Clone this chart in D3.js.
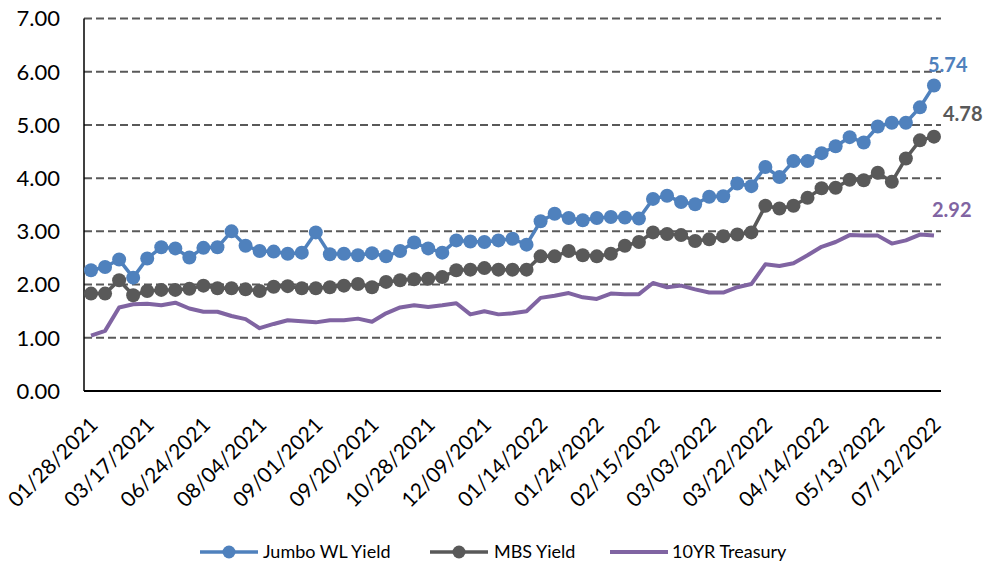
<!DOCTYPE html>
<html><head><meta charset="utf-8">
<script src="https://cdn.jsdelivr.net/npm/d3@7"></script>
<style>body{margin:0;background:#fff;} text{font-family:Lato,"Open Sans",sans-serif;}</style>
</head><body>
<svg id="c" width="989" height="565"></svg>
<script>
const tickLabels = ["01/28/2021","03/17/2021","06/24/2021","08/04/2021","09/01/2021","09/20/2021","10/28/2021","12/09/2021","01/14/2022","01/24/2022","02/15/2022","03/03/2022","03/22/2022","04/14/2022","05/13/2022","07/12/2022"];
const jumbo = [2.27,2.33,2.47,2.13,2.49,2.70,2.68,2.51,2.69,2.70,3.00,2.73,2.63,2.62,2.58,2.60,2.98,2.57,2.58,2.55,2.59,
  2.53,2.63,2.79,2.68,2.60,2.83,2.81,2.80,2.83,2.86,2.75,3.19,3.33,3.25,3.21,3.25,3.27,3.26,3.24,3.61,3.67,
  3.55,3.51,3.65,3.66,3.90,3.85,4.21,4.02,4.32,4.32,4.47,4.60,4.77,4.67,4.97,5.04,5.04,5.33,5.74];
const mbs = [1.83,1.83,2.08,1.80,1.88,1.90,1.90,1.92,1.98,1.93,1.93,1.91,1.88,1.96,1.97,1.93,1.93,1.95,1.98,2.01,1.95,
  2.05,2.08,2.10,2.11,2.14,2.27,2.28,2.31,2.28,2.28,2.28,2.53,2.53,2.63,2.55,2.53,2.58,2.73,2.80,2.98,2.95,
  2.93,2.82,2.85,2.91,2.94,2.98,3.48,3.43,3.48,3.63,3.81,3.82,3.97,3.96,4.10,3.93,4.37,4.71,4.78];
const treasury = [1.04,1.13,1.57,1.63,1.64,1.61,1.66,1.55,1.49,1.49,1.41,1.35,1.18,1.26,1.33,1.31,1.29,1.33,1.33,1.36,1.30,
  1.46,1.57,1.61,1.58,1.61,1.65,1.44,1.50,1.44,1.46,1.50,1.75,1.79,1.84,1.76,1.73,1.83,1.82,1.82,2.03,1.95,
  1.98,1.91,1.85,1.85,1.95,2.01,2.38,2.35,2.40,2.55,2.71,2.80,2.93,2.92,2.92,2.77,2.83,2.94,2.92];
const yTicks = [0,1,2,3,4,5,6,7];
const seriesNames = ["Jumbo WL Yield","MBS Yield","10YR Treasury"];
const colors = ["#4F81BD","#595959","#8064A2"];

const svg = d3.select("#c");
const L = 84, R = 941, T = 18.5, B = 391;
const idx = d3.range(jumbo.length);
const x = d3.scaleBand().domain(idx).range([L, R]).padding(0);
const cx = i => x(i) + x.bandwidth()/2;
const y = d3.scaleLinear().domain([0,7]).range([B, T]);

// gridlines
svg.append("g").selectAll("line").data(yTicks.filter(d=>d>0)).join("line")
  .attr("x1", L).attr("x2", R).attr("y1", d=>y(d)).attr("y2", d=>y(d))
  .attr("stroke", "#595959").attr("stroke-width", 2).attr("stroke-dasharray", "8,4");

// y axis labels
svg.append("g").selectAll("text").data(yTicks).join("text")
  .attr("x", 60).attr("y", d=>y(d)).attr("dy", "0.36em").attr("text-anchor","end")
  .attr("font-size", 22).attr("fill", "#000").text(d=>d.toFixed(2));

// axes lines
svg.append("line").attr("x1",L).attr("x2",L).attr("y1",T).attr("y2",B).attr("stroke","#000").attr("stroke-width",1.5);
svg.append("line").attr("x1",L).attr("x2",R).attr("y1",B).attr("y2",B).attr("stroke","#000").attr("stroke-width",2);

// x labels
svg.append("g").selectAll("text").data(tickLabels).join("text")
  .attr("transform", (d,k)=>`translate(${cx(k*4)+3},${B+30}) rotate(-45)`)
  .attr("text-anchor","end").attr("dy","0.35em").attr("font-size", 21).attr("fill","#000").text(d=>d);

const line = d3.line().x((d,i)=>cx(i)).y(d=>y(d));
const data = [jumbo, mbs, treasury];
[2,1,0].forEach(s=>{
  svg.append("path").datum(data[s]).attr("d", line).attr("fill","none")
    .attr("stroke", colors[s]).attr("stroke-width", s===2?4:3.5).attr("stroke-linejoin","round");
  if (s<2) {
    svg.append("g").selectAll("circle").data(data[s]).join("circle")
      .attr("cx",(d,i)=>cx(i)).attr("cy", d=>y(d)).attr("r", 7).attr("fill", colors[s]);
  }
});

// end labels
const last = jumbo.length-1;
const endLbl = [[jumbo,0,-6,-14],[mbs,1,9,-16],[treasury,2,-2,-19]];
endLbl.forEach(([arr,s,dx,dy])=>{
  svg.append("text").attr("x", cx(last)+dx).attr("y", y(arr[last])+dy)
    .attr("font-size", 20).attr("font-weight","bold").attr("fill", colors[s]).text(arr[last].toFixed(2));
});

// legend
const legY = 552;
const legItems = [{x:200, tx:263},{x:430, tx:494},{x:610, tx:672}];
legItems.forEach((it,s)=>{
  svg.append("line").attr("x1", it.x).attr("x2", it.x+58).attr("y1", legY).attr("y2", legY)
    .attr("stroke", colors[s]).attr("stroke-width", s===2?4:3.5);
  if (s<2) svg.append("circle").attr("cx", it.x+29).attr("cy", legY).attr("r", 6.5).attr("fill", colors[s]);
  svg.append("text").attr("x", it.tx).attr("y", legY).attr("dy","0.35em").attr("font-size", 18).attr("fill","#000").text(seriesNames[s]);
});
</script>
</body></html>
